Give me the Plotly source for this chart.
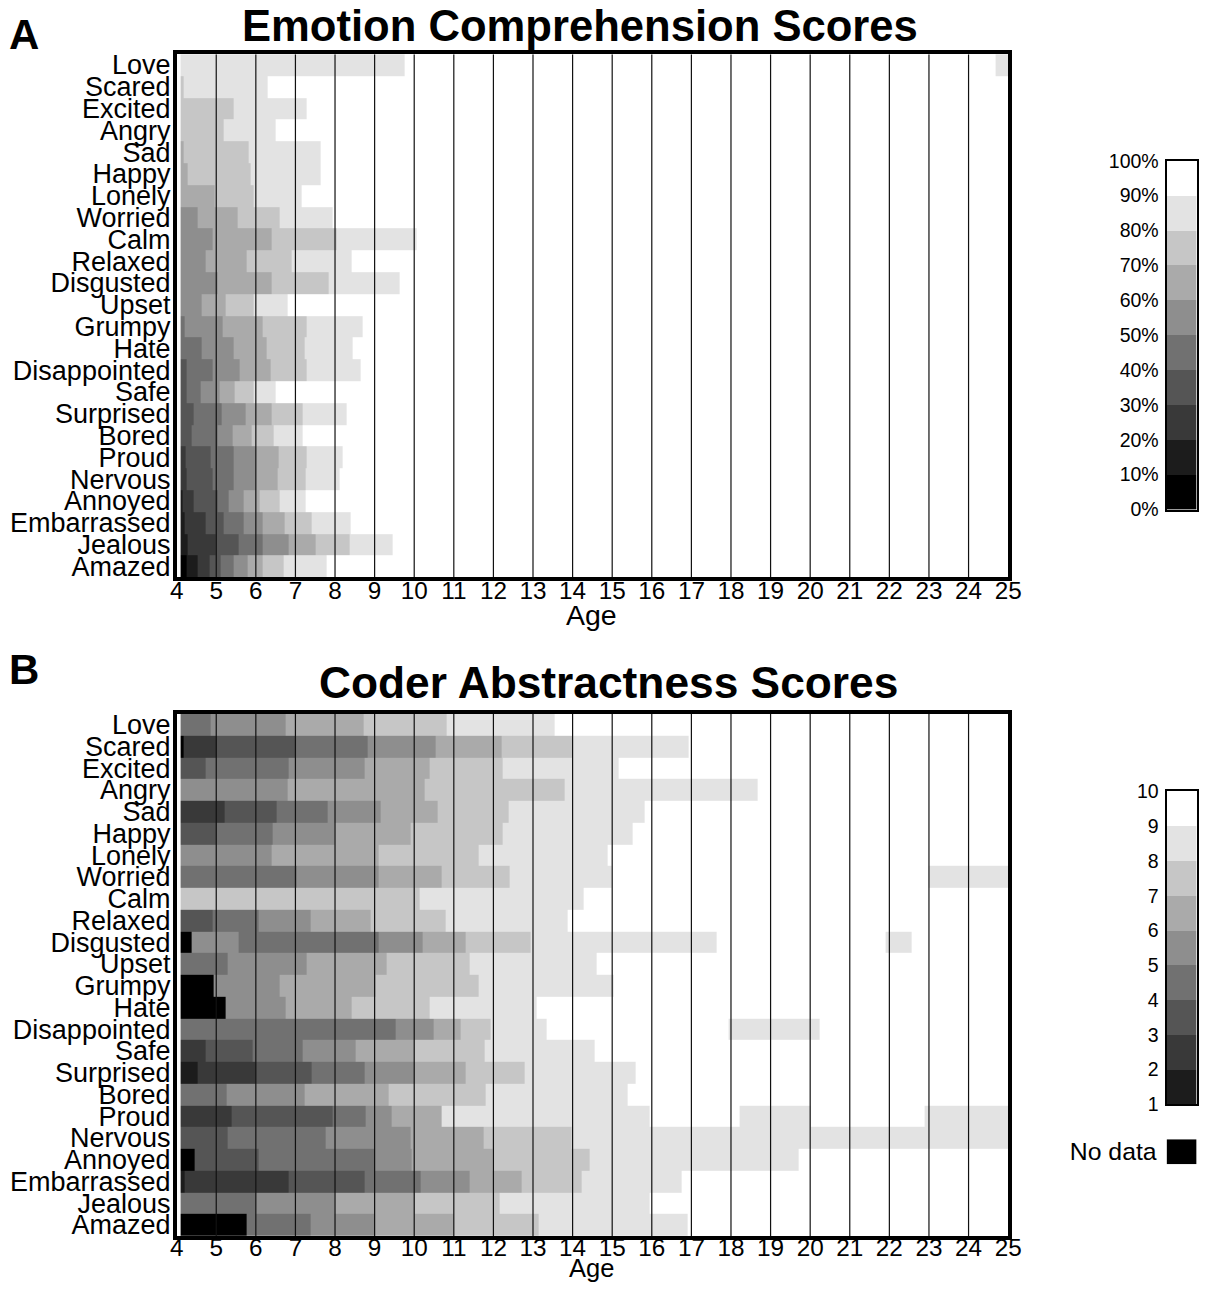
import plotly.graph_objects as go

W, H = 1211, 1291
# the saved picture places figure pixel f at about OFF + SCALE * f; target positions below are
# given in picture pixels and converted with these two constants
SCALE_X, OFF_X = 0.983, 8.0
SCALE_Y, OFF_Y = 0.9865, 7.7

EMOTIONS = ["Love", "Scared", "Excited", "Angry", "Sad", "Happy", "Lonely", "Worried",
            "Calm", "Relaxed", "Disgusted", "Upset", "Grumpy", "Hate", "Disappointed",
            "Safe", "Surprised", "Bored", "Proud", "Nervous", "Annoyed", "Embarrassed",
            "Jealous", "Amazed"]
AGE_TICKS = list(range(4, 26))
AGE_START = 4.1

# Panel A: for every emotion, the age where each step ends and the percent band (lower bound) of that step
A_ENDS = [
    [9.75, 24.68, 25],
    [4.18, 6.29, 25],
    [5.43, 7.29, 25],
    [5.19, 6.50, 25],
    [4.18, 5.81, 7.63, 25],
    [4.27, 5.87, 7.63, 25],
    [4.97, 5.95, 7.15, 25],
    [4.54, 5.55, 6.60, 7.95, 25],
    [4.90, 6.41, 8.05, 10.06, 25],
    [4.73, 5.76, 6.90, 8.41, 25],
    [5.03, 6.41, 7.84, 9.63, 25],
    [4.63, 5.24, 5.95, 6.81, 25],
    [4.20, 5.17, 6.18, 7.28, 8.70, 25],
    [4.62, 5.43, 6.27, 7.24, 8.45, 25],
    [4.25, 4.92, 5.60, 6.37, 7.29, 8.64, 25],
    [4.24, 4.60, 5.09, 5.46, 5.95, 6.50, 25],
    [4.43, 5.13, 5.74, 6.41, 7.17, 8.30, 25],
    [4.39, 5.03, 5.41, 5.89, 6.45, 7.18, 25],
    [4.23, 4.87, 5.43, 5.99, 6.58, 7.28, 8.18, 25],
    [4.26, 4.90, 5.45, 5.99, 6.55, 7.25, 8.11, 25],
    [4.15, 4.43, 5.03, 5.30, 5.70, 6.10, 6.60, 7.25, 25],
    [4.20, 4.73, 5.19, 5.68, 6.18, 6.73, 7.42, 8.39, 25],
    [4.28, 4.98, 5.57, 6.18, 6.83, 7.52, 8.37, 9.46, 25],
    [4.25, 4.54, 4.83, 5.11, 5.43, 5.78, 6.18, 6.71, 7.78, 25],
]
A_PCT = [
    [80, 90, 80],
    [70, 80, 90],
    [70, 80, 90],
    [70, 80, 90],
    [60, 70, 80, 90],
    [60, 70, 80, 90],
    [60, 70, 80, 90],
    [50, 60, 70, 80, 90],
    [50, 60, 70, 80, 90],
    [50, 60, 70, 80, 90],
    [50, 60, 70, 80, 90],
    [50, 60, 70, 80, 90],
    [40, 50, 60, 70, 80, 90],
    [40, 50, 60, 70, 80, 90],
    [30, 40, 50, 60, 70, 80, 90],
    [30, 40, 50, 60, 70, 80, 90],
    [30, 40, 50, 60, 70, 80, 90],
    [30, 40, 50, 60, 70, 80, 90],
    [20, 30, 40, 50, 60, 70, 80, 90],
    [20, 30, 40, 50, 60, 70, 80, 90],
    [10, 20, 30, 40, 50, 60, 70, 80, 90],
    [10, 20, 30, 40, 50, 60, 70, 80, 90],
    [10, 20, 30, 40, 50, 60, 70, 80, 90],
    [0, 10, 20, 30, 40, 50, 60, 70, 80, 90],
]

# Panel B: end ages of each step and the abstractness score band (lower bound); None = no data
B_ENDS = [
    [4.86, 6.76, 8.72, 10.81, 13.55, 25],
    [4.18, 5.00, 7.00, 8.82, 10.55, 12.21, 13.99, 16.92, 25],
    [4.73, 6.83, 8.75, 10.40, 12.24, 15.15, 25],
    [6.79, 10.26, 13.81, 18.66, 25],
    [5.21, 6.52, 7.82, 9.14, 10.59, 12.39, 15.81, 25],
    [5.00, 6.43, 8.00, 9.90, 12.23, 15.51, 25],
    [6.41, 9.10, 11.62, 14.88, 25],
    [7.04, 9.10, 10.70, 12.40, 14.98, 23.00, 25],
    [10.13, 14.29, 25],
    [4.92, 6.08, 7.39, 8.89, 10.78, 13.87, 25],
    [4.37, 5.57, 9.10, 10.22, 11.31, 12.94, 17.63, 21.91, 22.55, 25],
    [5.29, 7.29, 9.31, 11.41, 14.60, 25],
    [4.94, 6.61, 9.02, 11.62, 15.03, 25],
    [5.24, 6.74, 8.41, 10.40, 13.09, 25],
    [9.52, 10.49, 11.18, 11.93, 13.34, 17.94, 20.23, 25],
    [4.73, 5.92, 7.17, 8.51, 10.00, 11.79, 14.56, 25],
    [4.52, 5.99, 7.42, 8.75, 10.00, 11.31, 12.80, 15.59, 25],
    [5.26, 7.24, 9.35, 11.81, 15.38, 25],
    [5.39, 7.95, 8.78, 9.42, 10.70, 15.95, 18.22, 20.00, 22.89, 25],
    [5.29, 7.76, 9.90, 11.75, 13.97, 25],
    [4.45, 6.08, 9.00, 9.94, 11.97, 14.44, 19.71, 25],
    [4.20, 6.83, 8.75, 10.15, 11.39, 12.70, 14.23, 16.76, 25],
    [5.99, 8.00, 10.00, 12.15, 15.95, 25],
    [5.76, 7.38, 9.00, 11.00, 13.13, 16.90, 25],
]
B_SCORE = [
    [4, 5, 6, 7, 8, 9],
    [None, 2, 3, 4, 5, 6, 7, 8, 9],
    [3, 4, 5, 6, 7, 8, 9],
    [5, 6, 7, 8, 9],
    [2, 3, 4, 5, 6, 7, 8, 9],
    [3, 4, 5, 6, 7, 8, 9],
    [5, 6, 7, 8, 9],
    [4, 5, 6, 7, 8, 9, 8],
    [7, 8, 9],
    [3, 4, 5, 6, 7, 8, 9],
    [None, 5, 4, 5, 6, 7, 8, 9, 8, 9],
    [4, 5, 6, 7, 8, 9],
    [None, 5, 6, 7, 8, 9],
    [None, 5, 6, 7, 8, 9],
    [4, 5, 6, 7, 8, 9, 8, 9],
    [2, 3, 4, 5, 6, 7, 8, 9],
    [1, 2, 3, 4, 5, 6, 7, 8, 9],
    [4, 5, 6, 7, 8, 9],
    [2, 3, 4, 5, 6, 8, 9, 8, 9, 8],
    [3, 4, 5, 6, 7, 8],
    [None, 3, 4, 5, 6, 7, 8, 9],
    [1, 2, 3, 4, 5, 6, 7, 8, 9],
    [4, 5, 6, 7, 8, 9],
    [None, 4, 5, 6, 7, 8, 9],
]

PCT_TICKS = list(range(0, 101, 10))
SCORE_TICKS = list(range(1, 11))

FONT = "Liberation Sans, Arial, Helvetica, sans-serif"

# ten-step gray palette (index 0 = black ... 9 = white)
GRAYS = [round(k * 255 / 9) for k in range(10)]
COLORSCALE = []
for k, g in enumerate(GRAYS):
    c = f"rgb({g},{g},{g})"
    COLORSCALE.append([k / 10, c])
    COLORSCALE.append([(k + 1) / 10, c])


def pct_index(p):
    return min(int(p // 10), 9)


def score_index(s):
    return 0 if s is None else int(s)


def build_grid(ends_rows, level_rows, to_index):
    edges = sorted({AGE_START} | {e for row in ends_rows for e in row})
    z = []
    for ends, levels in zip(ends_rows, level_rows):
        row = []
        for a, b in zip(edges[:-1], edges[1:]):
            mid = (a + b) / 2
            val = to_index(levels[-1])
            for e, lv in zip(ends, levels):
                if mid < e:
                    val = to_index(lv)
                    break
            row.append(val)
        z.append(row)
    return edges, z


def px_x(p):
    return min(max((p - OFF_X) / SCALE_X / W, 0.0), 1.0)


def px_y(p):
    return min(max(1 - (p - OFF_Y) / SCALE_Y / H, 0.0), 1.0)


fig = go.Figure()

row_edges = [i - 0.5 for i in range(len(EMOTIONS) + 1)]

grid_x, grid_y = [], []
for t in AGE_TICKS[1:-1]:
    grid_x += [t, t, None]
    grid_y += [-0.5, len(EMOTIONS) - 0.5, None]

panels = [
    ("x", "y", A_ENDS, A_PCT, pct_index),
    ("x2", "y2", B_ENDS, B_SCORE, score_index),
]
for xa, ya, ends, levels, fn in panels:
    edges, z = build_grid(ends, levels, fn)
    fig.add_trace(go.Heatmap(x=edges, y=row_edges, z=z, colorscale=COLORSCALE,
                             zmin=-0.5, zmax=9.5, showscale=False, xaxis=xa, yaxis=ya,
                             hoverinfo="skip"))
    fig.add_trace(go.Scatter(x=grid_x, y=grid_y, mode="lines",
                             line=dict(color="#111111", width=1.2),
                             xaxis=xa, yaxis=ya, showlegend=False, hoverinfo="skip"))

# legend bars
fig.add_trace(go.Heatmap(x=[0, 1], y=PCT_TICKS, z=[[k] for k in range(10)],
                         colorscale=COLORSCALE, zmin=-0.5, zmax=9.5, showscale=False,
                         xaxis="x3", yaxis="y3", hoverinfo="skip"))
fig.add_trace(go.Heatmap(x=[0, 1], y=SCORE_TICKS, z=[[k] for k in range(1, 10)],
                         colorscale=COLORSCALE, zmin=-0.5, zmax=9.5, showscale=False,
                         xaxis="x4", yaxis="y4", hoverinfo="skip"))
fig.add_trace(go.Heatmap(x=[0, 1], y=[0, 1], z=[[0]],
                         colorscale=COLORSCALE, zmin=-0.5, zmax=9.5, showscale=False,
                         xaxis="x5", yaxis="y5", hoverinfo="skip"))

X_DOM = [px_x(177.7), px_x(1009.5)]
main_x = dict(range=[4, 25], tickmode="array", tickvals=AGE_TICKS, ticks="",
              showgrid=False, zeroline=False, showline=True, mirror=True, linewidth=3.5,
              linecolor="black", tickfont=dict(size=24.3, color="black", family=FONT),
              ticklabelstandoff=-11, domain=X_DOM)
main_y = dict(range=[len(EMOTIONS) - 0.5, -0.5], tickmode="array",
              tickvals=list(range(len(EMOTIONS))), ticktext=EMOTIONS, ticks="",
              showgrid=False, zeroline=False, showline=True, mirror=True, linewidth=3.5,
              linecolor="black", tickfont=dict(size=27, color="black", family=FONT),
              ticklabelstandoff=-3)

LEG_X = [px_x(1168), px_x(1198)]
leg_x = dict(range=[0, 1], domain=LEG_X, showticklabels=False, ticks="",
             showgrid=False, zeroline=False, showline=True, mirror=True, linewidth=2,
             linecolor="black")
leg_y_font = dict(size=19.5, color="black", family=FONT)


def ann(text, x, y, size, anchor="center"):
    return dict(text=text, x=px_x(x), y=px_y(y), xref="paper", yref="paper",
                xanchor=anchor, yanchor="middle", showarrow=False,
                font=dict(size=size, color="black", family=FONT))


fig.update_layout(
    width=W, height=H, margin=dict(l=0, r=0, t=0, b=0),
    paper_bgcolor="white", plot_bgcolor="white", showlegend=False,
    font=dict(family=FONT, color="black"),
    xaxis=dict(main_x, anchor="y"),
    yaxis=dict(main_y, anchor="x", domain=[px_y(576), px_y(51)]),
    xaxis2=dict(main_x, anchor="y2", ticklabelstandoff=-13),
    yaxis2=dict(main_y, anchor="x2", domain=[px_y(1237), px_y(713)]),
    xaxis3=dict(leg_x, anchor="y3"),
    yaxis3=dict(anchor="x3", domain=[px_y(508), px_y(158)], range=[0, 100], tickmode="array",
                tickvals=PCT_TICKS, ticktext=[f"{v}%" for v in PCT_TICKS], ticks="outside",
                ticklen=2, tickcolor="rgba(0,0,0,0)", showgrid=False, zeroline=False,
                showline=True, mirror=True, linewidth=2, linecolor="black", tickfont=leg_y_font),
    xaxis4=dict(leg_x, anchor="y4"),
    yaxis4=dict(anchor="x4", domain=[px_y(1105), px_y(791)], range=[1, 10], tickmode="array",
                tickvals=SCORE_TICKS, ticktext=[str(v) for v in SCORE_TICKS], ticks="outside",
                ticklen=2, tickcolor="rgba(0,0,0,0)", showgrid=False, zeroline=False,
                showline=True, mirror=True, linewidth=2, linecolor="black", tickfont=leg_y_font),
    xaxis5=dict(range=[0, 1], domain=LEG_X, visible=False, anchor="y5"),
    yaxis5=dict(anchor="x5", domain=[px_y(1165), px_y(1140)], range=[0, 1], tickmode="array",
                tickvals=[0.5], ticktext=["No data"], ticks="outside", ticklen=4,
                tickcolor="rgba(0,0,0,0)", showgrid=False, zeroline=False, showline=False,
                tickfont=dict(size=24.8, color="black", family=FONT)),
    annotations=[
        ann("<b>A</b>", 7, 31, 42, "left"),
        ann("<b>B</b>", 7, 669, 42, "left"),
        ann("<b>Emotion Comprehension Scores</b>", 581, 22.5, 43.6),
        ann("<b>Coder Abstractness Scores</b>", 609.7, 682, 44.3),
        ann("Age", 593, 614, 28.5),
        ann("Age", 593, 1269.5, 25.5),
    ],
)

fig.write_html("out.html")
